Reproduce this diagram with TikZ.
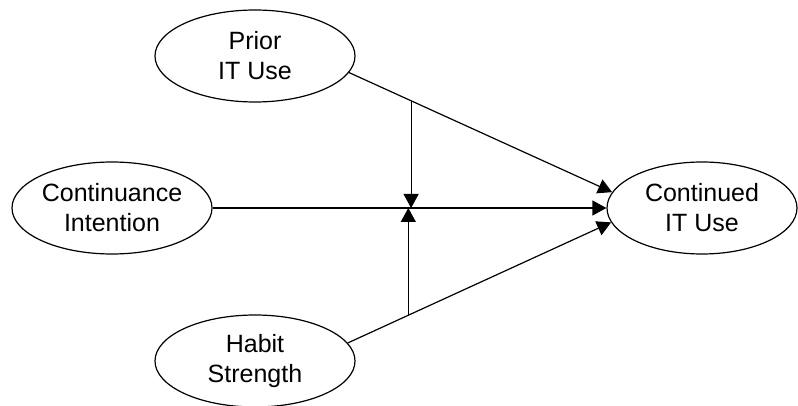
\documentclass[tikz,border=0pt]{standalone}
\usepackage{fontspec}
\setmainfont{Liberation Sans}
\usetikzlibrary{arrows.meta,calc,shapes.geometric}
\begin{document}
\begin{tikzpicture}[x=1pt,y=-1pt,
  construct/.style={draw, ellipse, line width=1.2pt, inner sep=0pt,
    minimum width=200pt, minimum height=92pt, align=center,
    font=\fontsize{25}{30}\selectfont},
  link/.style={line width=1.2pt, -{Triangle[length=14pt,width=15pt]}},
  plain/.style={line width=1.2pt}]
\useasboundingbox (0,0) rectangle (798,406);
\node[construct] (prior) at (255,56) {Prior\\IT Use};
\node[construct] (intent) at (112,208) {Continuance\\Intention};
\node[construct] (habit) at (255,361) {Habit\\Strength};
\node[construct, minimum width=190pt] (cont) at (702,208) {Continued\\IT Use};
\draw[link] (prior.-10) -- coordinate[pos=0.236] (m1) (cont.170);
\draw[link] (habit.11) -- coordinate[pos=0.23] (m2) (cont.-171);
\draw[link] (intent.east) -- (cont.west);
\draw[link] (m1) -- (m1 |- intent.east);
\draw[link] (m2) -- (m2 |- intent.east);
\end{tikzpicture}
\end{document}
